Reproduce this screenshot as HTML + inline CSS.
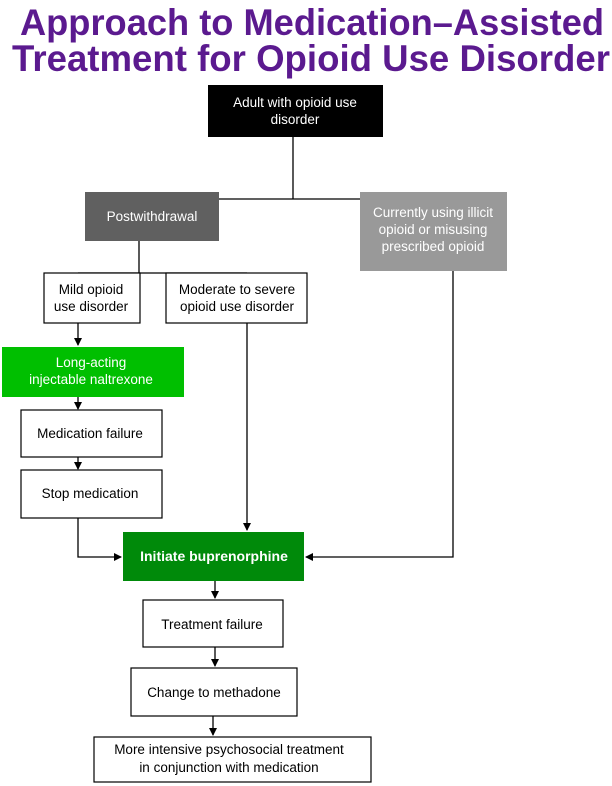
<!DOCTYPE html>
<html><head><meta charset="utf-8"><style>
html,body{margin:0;padding:0;background:#fff;}
svg{display:block;}
text{font-family:"Liberation Sans",Arial,sans-serif;}
</style></head><body>
<svg width="612" height="786" viewBox="0 0 612 786" xmlns="http://www.w3.org/2000/svg">
<defs><marker id="a" markerWidth="8" markerHeight="8" refX="7" refY="4" orient="auto" markerUnits="userSpaceOnUse"><path d="M0,0 L8,4 L0,8 z" fill="#000"/></marker></defs>
<g fill="#5b1a8f" font-weight="bold" font-size="37">
<text x="20" y="35" textLength="584" lengthAdjust="spacingAndGlyphs">Approach to Medication–Assisted</text>
<text x="12" y="71" textLength="598" lengthAdjust="spacingAndGlyphs">Treatment for Opioid Use Disorder</text>
</g>
<g stroke="#000" stroke-width="1.3" fill="none">
<path d="M293,137 V199 M139,199 H450 M139,199 V192 M450,199 V192"/>
<path d="M139,241 V273 M78,273 H247 M78,273 V273"/>
<path d="M78,323 V345" marker-end="url(#a)"/>
<path d="M78,397 V409" marker-end="url(#a)"/>
<path d="M78,457 V469" marker-end="url(#a)"/>
<path d="M78,518 V557 H121" marker-end="url(#a)"/>
<path d="M247,323 V530" marker-end="url(#a)"/>
<path d="M453,271 V557 H306" marker-end="url(#a)"/>
<path d="M215,581 V598" marker-end="url(#a)"/>
<path d="M215,647 V666" marker-end="url(#a)"/>
<path d="M213,716 V735" marker-end="url(#a)"/>
</g>
<rect x="208" y="85" width="175" height="52" fill="#000"/>
<rect x="85" y="192" width="134" height="49" fill="#606060"/>
<rect x="360" y="192" width="147" height="79" fill="#999"/>
<g fill="#fff" stroke="#000" stroke-width="1.2">
<rect x="44" y="273" width="96" height="50"/>
<rect x="166" y="273" width="141" height="50"/>
<rect x="21" y="410" width="141" height="47"/>
<rect x="21" y="470" width="141" height="48"/>
<rect x="143" y="600" width="140" height="47"/>
<rect x="131" y="668" width="166" height="48"/>
<rect x="94" y="737" width="277" height="45"/>
</g>
<rect x="2" y="347" width="182" height="50" fill="#00bf00"/>
<rect x="123" y="532" width="181" height="49" fill="#008a0a"/>
<g font-size="13.5" text-anchor="middle">
<text x="295" y="107" fill="#fff">Adult with opioid use</text>
<text x="295" y="124" fill="#fff">disorder</text>
<text x="152" y="221" fill="#fff">Postwithdrawal</text>
<text x="433" y="217" fill="#fff">Currently using illicit</text>
<text x="433" y="234" fill="#fff">opioid or misusing</text>
<text x="433" y="251" fill="#fff">prescribed opioid</text>
<text x="91" y="294">Mild opioid</text>
<text x="91" y="311">use disorder</text>
<text x="237" y="294">Moderate to severe</text>
<text x="237" y="311">opioid use disorder</text>
<text x="91" y="367" fill="#fff">Long-acting</text>
<text x="91" y="384" fill="#fff">injectable naltrexone</text>
<text x="90" y="438">Medication failure</text>
<text x="90" y="498">Stop medication</text>
<text x="214" y="561" fill="#fff" font-weight="bold" font-size="14">Initiate buprenorphine</text>
<text x="212" y="629">Treatment failure</text>
<text x="214" y="697">Change to methadone</text>
<text x="229" y="754">More intensive psychosocial treatment</text>
<text x="229" y="772">in conjunction with medication</text>
</g>
</svg>
</body></html>
